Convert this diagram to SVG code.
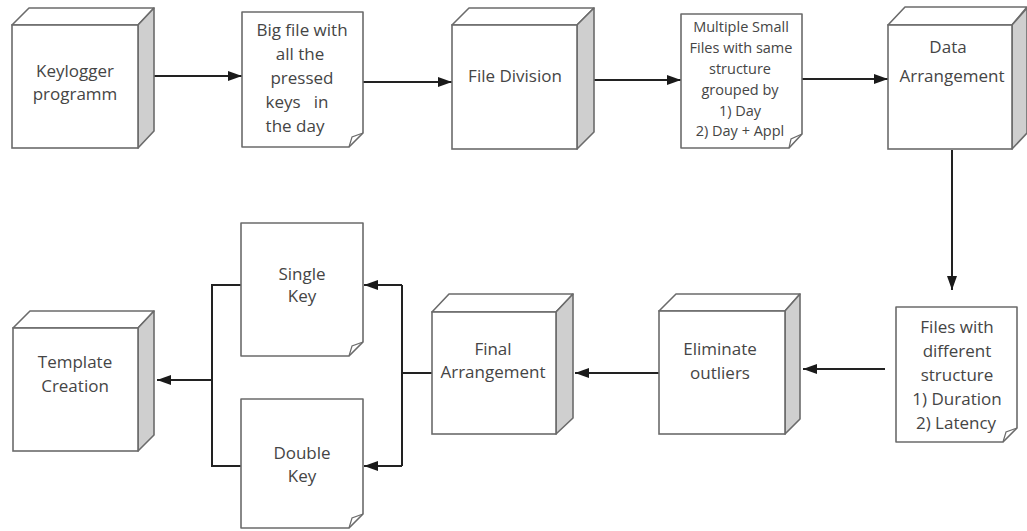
<svg xmlns="http://www.w3.org/2000/svg" width="1027" height="531" viewBox="0 0 1027 531">
  <defs>
    <marker id="arrow" viewBox="0 0 14 10" refX="14" refY="5" markerWidth="14" markerHeight="10" markerUnits="userSpaceOnUse" orient="auto">
      <path d="M0,0 L14,5 L0,10 Z" fill="#1a1a1a"/>
    </marker>
  </defs>
  <style>
    .front { fill: #ffffff; stroke: #6b6b6b; stroke-width: 1.6; }
    .top { fill: #ffffff; stroke: #6b6b6b; stroke-width: 1.6; stroke-linejoin: round; }
    .side { fill: #cfcfcf; stroke: #6b6b6b; stroke-width: 1.6; stroke-linejoin: round; }
    .doc { fill: #ffffff; stroke: #6b6b6b; stroke-width: 1.6; stroke-linejoin: round; }
    .fold { fill: none; stroke: #6b6b6b; stroke-width: 1.2; }
    .label { font-family: "Open Sans", "Liberation Sans", sans-serif; font-size: 17px; fill: #454545; text-anchor: middle; }
    .small { font-size: 14.5px; }
    .wire { fill: none; stroke: #222222; stroke-width: 2; }
  </style>

  <rect width="1027" height="531" fill="#ffffff"/>

  <!-- Connectors -->
  <g id="connectors">
    <line class="wire" x1="154" y1="76" x2="242" y2="76" marker-end="url(#arrow)"/>
    <line class="wire" x1="363" y1="82" x2="452" y2="82" marker-end="url(#arrow)"/>
    <line class="wire" x1="594" y1="80" x2="681" y2="80" marker-end="url(#arrow)"/>
    <line class="wire" x1="802" y1="79" x2="888" y2="79" marker-end="url(#arrow)"/>
    <line class="wire" x1="952" y1="150" x2="952" y2="290" marker-end="url(#arrow)"/>
    <line class="wire" x1="885" y1="369" x2="803" y2="369" marker-end="url(#arrow)"/>
    <line class="wire" x1="659" y1="373" x2="575" y2="373" marker-end="url(#arrow)"/>
    <!-- split toward the key documents -->
    <polyline class="wire" points="432,373 402,373"/>
    <polyline class="wire" points="402,466 402,285"/>
    <line class="wire" x1="402" y1="285" x2="364" y2="285" marker-end="url(#arrow)"/>
    <line class="wire" x1="402" y1="466" x2="364" y2="466" marker-end="url(#arrow)"/>
    <!-- merge toward template creation -->
    <polyline class="wire" points="241,285 212,285 212,466 241,466"/>
    <line class="wire" x1="212" y1="380" x2="157" y2="380" marker-end="url(#arrow)"/>
  </g>

  <!-- Keylogger programm -->
  <g id="node-keylogger">
    <polygon class="top" points="12,25 29,8 154,8 138,25"/>
    <polygon class="side" points="138,25 154,8 154,131 138,148"/>
    <rect class="front" x="12" y="25" width="126" height="123"/>
    <text class="label" x="75" y="77">Keylogger</text>
    <text class="label" x="75" y="100">programm</text>
  </g>

  <!-- Big file -->
  <g id="node-bigfile">
    <path class="doc" d="M242,12 H363 V133 L349,147 H242 Z"/>
    <path class="fold" d="M349,147 L352,137 L363,133"/>
    <text class="label" x="302" y="36">Big file with</text>
    <text class="label" x="300" y="60">all the</text>
    <text class="label" x="302" y="84">pressed</text>
    <text class="label" x="297" y="108" xml:space="preserve">keys   in</text>
    <text class="label" x="295" y="132">the day</text>
  </g>

  <!-- File Division -->
  <g id="node-filedivision">
    <polygon class="top" points="452,25 469,8 594,8 577,25"/>
    <polygon class="side" points="577,25 594,8 594,132 577,149"/>
    <rect class="front" x="452" y="25" width="125" height="124"/>
    <text class="label" x="515" y="82">File Division</text>
  </g>

  <!-- Multiple small files -->
  <g id="node-smallfiles">
    <path class="doc" d="M681,14 H802 V134 L789,148 H681 Z"/>
    <path class="fold" d="M789,148 L791,139 L802,134"/>
    <text class="label small" x="741" y="32">Multiple Small</text>
    <text class="label small" x="741" y="53">Files with same</text>
    <text class="label small" x="740" y="74">structure</text>
    <text class="label small" x="740" y="95">grouped by</text>
    <text class="label small" x="740" y="116">1) Day</text>
    <text class="label small" x="740" y="136">2) Day + Appl</text>
  </g>

  <!-- Data Arrangement -->
  <g id="node-dataarrangement">
    <polygon class="top" points="888,25 905,7 1027,7 1012,25"/>
    <polygon class="side" points="1012,25 1027,8 1027,133 1012,149"/>
    <rect class="front" x="888" y="25" width="124" height="124"/>
    <text class="label" x="948" y="53">Data</text>
    <text class="label" x="952" y="82">Arrangement</text>
  </g>

  <!-- Files with different structure -->
  <g id="node-difffiles">
    <path class="doc" d="M896,307 H1017 V428 L1003,442 H896 Z"/>
    <path class="fold" d="M1003,442 L1006,432 L1017,428"/>
    <text class="label" x="957" y="333">Files with</text>
    <text class="label" x="957" y="357">different</text>
    <text class="label" x="957" y="381">structure</text>
    <text class="label" x="957" y="405">1) Duration</text>
    <text class="label" x="956" y="429">2) Latency</text>
  </g>

  <!-- Eliminate outliers -->
  <g id="node-eliminate">
    <polygon class="top" points="659,311 676,294 800,294 785,311"/>
    <polygon class="side" points="785,311 800,294 800,419 785,434"/>
    <rect class="front" x="659" y="311" width="126" height="123"/>
    <text class="label" x="720" y="355">Eliminate</text>
    <text class="label" x="720" y="379">outliers</text>
  </g>

  <!-- Final Arrangement -->
  <g id="node-finalarrangement">
    <polygon class="top" points="432,312 449,294 573,294 556,312"/>
    <polygon class="side" points="556,312 573,294 573,418 556,434"/>
    <rect class="front" x="432" y="312" width="124" height="122"/>
    <text class="label" x="493" y="355">Final</text>
    <text class="label" x="493" y="378">Arrangement</text>
  </g>

  <!-- Single Key -->
  <g id="node-singlekey">
    <path class="doc" d="M241,223 H363 V342 L349,356 H241 Z"/>
    <path class="fold" d="M349,356 L352,346 L363,342"/>
    <text class="label" x="302" y="280">Single</text>
    <text class="label" x="302" y="302">Key</text>
  </g>

  <!-- Double Key -->
  <g id="node-doublekey">
    <path class="doc" d="M241,399 H363 V514 L349,528 H241 Z"/>
    <path class="fold" d="M349,528 L352,518 L363,514"/>
    <text class="label" x="302" y="459">Double</text>
    <text class="label" x="302" y="482">Key</text>
  </g>

  <!-- Template Creation -->
  <g id="node-template">
    <polygon class="top" points="13,328 30,311 154,311 138,328"/>
    <polygon class="side" points="138,328 154,311 154,435 138,451"/>
    <rect class="front" x="13" y="328" width="125" height="123"/>
    <text class="label" x="75" y="368">Template</text>
    <text class="label" x="75" y="392">Creation</text>
  </g>
</svg>
